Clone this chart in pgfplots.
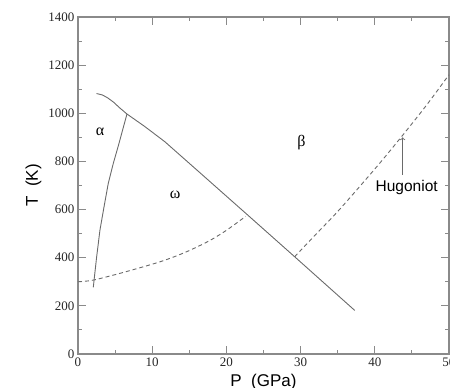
\documentclass[border=0pt]{standalone}
\usepackage{pgfplots}
\pgfplotsset{compat=1.18}
\usepackage{fontspec}
\setmainfont{Liberation Serif}
\newfontfamily\lserif{Liberation Serif}
\newfontfamily\lsans{Liberation Sans}
\definecolor{ln}{HTML}{6A6A6A}
\definecolor{fr}{HTML}{8A8A8A}
\begin{document}
\begin{tikzpicture}
\begin{axis}[
 scale only axis, width=371pt, height=337pt,
 xmin=0,xmax=50,ymin=0,ymax=1400,
 xtick={0,10,...,50}, ytick={0,200,...,1400},
 minor x tick num=1, minor y tick num=1,
 tick align=inside, major tick length=8pt, minor tick length=4pt,
 axis line style={draw=fr, line width=1.2pt},
 every tick/.style={fr,line width=1pt},
 tick label style={font=\lserif\fontsize{13}{15}\selectfont, text=black!85},
 /pgf/number format/assume math mode=true,
 /pgf/number format/1000 sep={},
 xlabel={P\ \ (GPa)}, ylabel={T\ \ (K)},
 label style={font=\lsans\fontsize{17}{19}\selectfont},
 xlabel style={at={(axis description cs:0.5,-0.095)},anchor=base},
 ylabel style={at={(axis description cs:-0.108,0.5)},anchor=base},
 clip=false,
]
% alpha/omega - beta boundary
\addplot[ln, line width=0.9pt] coordinates {
 (2.5,1082)(3.3,1076)(4,1064)(4.8,1046)(5.6,1023)(6.6,997)(9,945)(11.7,882)(16.4,754)(21.6,612)(22.7,582)(29.2,404)(37.3,181)};
% alpha - omega boundary
\addplot[ln, line width=0.9pt] coordinates {
 (6.6,997)(5.4,861)(4.76,792)(4.08,709)(3.5,610)(2.96,515)(2.5,400)(2.06,277)};
% omega - beta lower boundary (dashed)
\addplot[ln, line width=0.9pt, smooth, dash pattern=on 4pt off 3pt] coordinates {
 (0,300)(2.06,307)(6,338)(11.05,383)(14.5,423)(17.8,472)(20.2,518)(22.6,572)};
% Hugoniot (dashed)
\addplot[ln, line width=0.9pt, smooth, dash pattern=on 4pt off 3pt] coordinates {
 (29.2,404)(32,495)(35,592)(38,697)(41,805)(44,918)(47,1035)(50,1160)};
\draw[ln, line width=0.9pt, ->] (axis cs:43.75,744) -- (axis cs:43.75,900);
\node[font=\lserif\fontsize{16}{18}\selectfont] at (axis cs:2.96,924) {α};
\node[font=\lserif\fontsize{16}{18}\selectfont] at (axis cs:30.1,878) {β};
\node[font=\lserif\fontsize{16}{18}\selectfont] at (axis cs:13.1,660) {ω};
\node[font=\lsans\fontsize{15.5}{17}\selectfont] at (axis cs:44.3,691) {Hugoniot};
\end{axis}
\pgfresetboundingbox
\useasboundingbox (-78pt,-34pt) rectangle (372pt,354pt);
\end{tikzpicture}
\end{document}
